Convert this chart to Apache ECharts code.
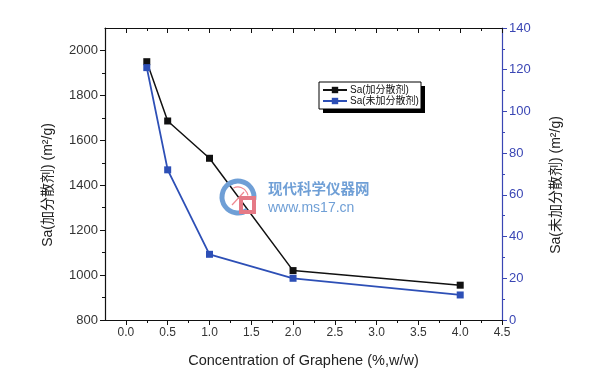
<!DOCTYPE html>
<html>
<head>
<meta charset="utf-8">
<script src="https://cdn.jsdelivr.net/npm/echarts@6/dist/echarts.min.js"></script>
<style>html,body{margin:0;padding:0;background:#fff}#c{width:590px;height:387px}</style>
</head>
<body>
<div id="c"></div>
<script>
// ---- data ----
const concentration = [0.25, 0.5, 1.0, 2.0, 4.0];
const saWithDispersant = [1950, 1686, 1520, 1020, 955];
const saWithoutDispersant = [121, 72, 31.5, 20, 12];
const xMajorTicks = [0, 0.5, 1.0, 1.5, 2.0, 2.5, 3.0, 3.5, 4.0, 4.5];
const xMinorTicks = [0.25, 0.75, 1.25, 1.75, 2.25, 2.75, 3.25, 3.75, 4.25];
const leftMajorTicks = [800, 1000, 1200, 1400, 1600, 1800, 2000];
const leftMinorTicks = [900, 1100, 1300, 1500, 1700, 1900];
const rightMajorTicks = [0, 20, 40, 60, 80, 100, 120, 140];
const rightMinorTicks = [10, 30, 50, 70, 90, 110, 130];
const seriesNames = ['Sa(加分散剂)', 'Sa(未加分散剂)'];
const xTitle = 'Concentration of Graphene (%,w/w)';
const leftTitle = 'Sa(加分散剂) (m²/g)';
const rightTitle = 'Sa(未加分散剂) (m²/g)';

const FONT = '"Liberation Sans", Arial, "Noto Sans CJK SC", sans-serif';
const BLACK = '#111111';
const BLUE = '#2d4fb6';
const AXBLUE = '#3a46b4';

const chart = echarts.init(document.getElementById('c'), null, {renderer: 'canvas'});

function xAx(pos, major, inside) {
  return {
    type: 'value', position: pos, min: -0.25, max: 4.5,
    axisLine: {show: major, lineStyle: {color: BLACK, width: 1.2}},
    axisTick: {show: true, inside: inside, length: major ? 5 : 3,
      customValues: major ? xMajorTicks : xMinorTicks, lineStyle: {color: BLACK, width: 1}},
    axisLabel: {show: major && pos === 'bottom', customValues: xMajorTicks,
      formatter: v => v.toFixed(1), color: '#333', fontSize: 12, fontFamily: FONT, margin: 7},
    splitLine: {show: false}
  };
}
function yAx(pos, min, max, major, minorVals, majorVals, color, labelColor, fontSize) {
  return {
    type: 'value', position: pos, min: min, max: max,
    axisLine: {show: major, onZero: false, lineStyle: {color: color, width: 1.2}},
    axisTick: {show: true, inside: false, length: major ? 5 : 3,
      customValues: major ? majorVals : minorVals, lineStyle: {color: color, width: 1}},
    axisLabel: {show: major, customValues: majorVals, formatter: v => String(v),
      color: labelColor, fontSize: fontSize, fontFamily: FONT, margin: 7},
    splitLine: {show: false}
  };
}

const yLeft = yAx('left', 800, 2100, true, leftMinorTicks, leftMajorTicks, BLACK, '#333', 13);
yLeft.name = leftTitle;
yLeft.nameLocation = 'middle';
yLeft.nameGap = 50;
yLeft.nameTextStyle = {color: '#222', fontSize: 14, fontFamily: FONT, padding: [0, 22, 0, 0]};
const yRight = yAx('right', 0, 140, true, rightMinorTicks, rightMajorTicks, AXBLUE, AXBLUE, 13);
yRight.name = rightTitle;
yRight.nameLocation = 'middle';
yRight.nameGap = 47;
yRight.nameTextStyle = {color: '#222', fontSize: 14, fontFamily: FONT, padding: [0, 22, 0, 0]};

const xMain = xAx('bottom', true, false);
xMain.name = xTitle;
xMain.nameLocation = 'middle';
xMain.nameGap = 34;
xMain.nameTextStyle = {color: '#222', fontSize: 14.5, fontFamily: FONT};

const option = {
  backgroundColor: '#ffffff',
  animation: false,
  grid: {left: 105, right: 88, top: 28, bottom: 67, containLabel: false},
  xAxis: [xMain, xAx('bottom', false, false), xAx('top', true, true), xAx('top', false, true)],
  yAxis: [yLeft,
          yAx('left', 800, 2100, false, leftMinorTicks, leftMajorTicks, BLACK, '#333', 13),
          yRight,
          yAx('right', 0, 140, false, rightMinorTicks, rightMajorTicks, AXBLUE, AXBLUE, 13)],
  legend: {
    orient: 'vertical', left: 322, top: 85, padding: 0, itemGap: 1,
    itemWidth: 24, itemHeight: 8, z: 10,
    textStyle: {color: '#111', fontSize: 10, fontFamily: FONT, padding: [0, 0, 0, -2]},
    data: seriesNames
  },
  graphic: [
    {type: 'rect', z: 8, shape: {x: 323, y: 86, width: 102, height: 27}, style: {fill: '#000'}},
    {type: 'rect', z: 9, shape: {x: 319, y: 82, width: 102, height: 27}, style: {fill: '#fff', stroke: '#000', lineWidth: 1}},
    // watermark
    {type: 'arc', z: 20, shape: {cx: 238, cy: 197, r: 16, startAngle: Math.PI * 0.3, endAngle: Math.PI * 2.05},
      style: {stroke: '#6f9fd6', lineWidth: 5, fill: 'transparent'}},
    {type: 'arc', z: 20, shape: {cx: 238, cy: 197, r: 10, startAngle: Math.PI * 1.35, endAngle: Math.PI * 1.95},
      style: {stroke: '#ee8890', lineWidth: 1.2, fill: 'transparent'}},
    {type: 'line', z: 20, shape: {x1: 232, y1: 205, x2: 244, y2: 192}, style: {stroke: '#ee8890', lineWidth: 1.2}},
    {type: 'rect', z: 20, shape: {x: 241, y: 198, width: 13, height: 14}, style: {stroke: '#e57a86', lineWidth: 4, fill: 'transparent'}},
    {type: 'text', z: 20, x: 268, y: 188, style: {text: '现代科学仪器网', fill: '#6f9fd6', fontSize: 14.5, fontWeight: 'bold', fontFamily: '"Noto Sans CJK SC", sans-serif', textVerticalAlign: 'middle'}},
    {type: 'text', z: 20, x: 268, y: 208, style: {text: 'www.ms17.cn', fill: '#6f9fd6', fontSize: 14, fontFamily: FONT, textVerticalAlign: 'middle'}}
  ],
  series: [
    {name: seriesNames[0], type: 'line', xAxisIndex: 0, yAxisIndex: 0,
      data: concentration.map((x, i) => [x, saWithDispersant[i]]),
      symbol: 'rect', symbolSize: 7, color: BLACK,
      lineStyle: {color: BLACK, width: 1.5}, itemStyle: {color: BLACK}, z: 3},
    {name: seriesNames[1], type: 'line', xAxisIndex: 0, yAxisIndex: 2,
      data: concentration.map((x, i) => [x, saWithoutDispersant[i]]),
      symbol: 'rect', symbolSize: 7, color: BLUE,
      lineStyle: {color: BLUE, width: 1.8}, itemStyle: {color: BLUE}, z: 3}
  ]
};
chart.setOption(option);
</script>
</body>
</html>
